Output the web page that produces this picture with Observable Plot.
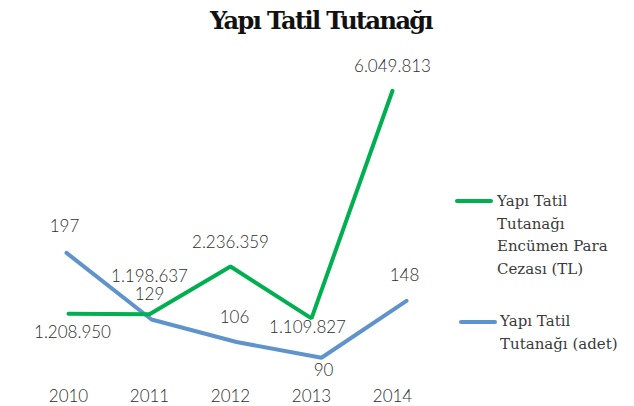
<!DOCTYPE html>
<html>
<head>
<meta charset="utf-8">
<script src="https://cdn.jsdelivr.net/npm/d3@7"></script>
<script src="https://cdn.jsdelivr.net/npm/@observablehq/plot@0.6"></script>
<style>
  html, body { margin: 0; padding: 0; background: #fff; }
  #wrap { position: relative; width: 634px; height: 406px; overflow: hidden; }
  #wrap svg { position: absolute; left: 0; top: 0; }
  #title { position: absolute; left: 0; width: 642px; top: 9px; text-align: center;
    font-family: "DejaVu Serif", serif; font-weight: bold; font-size: 24px; line-height: 24px; color: #111;
    letter-spacing: -1.6px; }
  .leg { position: absolute; font-family: "DejaVu Serif", serif; font-size: 15px; line-height: 22.7px; color: #3a3a3a; }
  .sw { position: absolute; height: 4px; border-radius: 2px; }
</style>
</head>
<body>
<div id="wrap">
  <div id="title">Yapı Tatil Tutanağı</div>
</div>
<script>
const years = ["2010", "2011", "2012", "2013", "2014"];
const cezaTL = [1208950, 1198637, 2236359, 1109827, 6049813];
const adet = [197, 129, 106, 90, 148];
const seriesNames = ["Yapı Tatil Tutanağı Encümen Para Cezası (TL)", "Yapı Tatil Tutanağı (adet)"];
const colors = ["#00b050", "#5f93cc"];

const trLocale = d3.formatLocale({decimal: ",", thousands: ".", grouping: [3], currency: ["", " TL"]});
const fmt = trLocale.format(",d");

const green = years.map((y, i) => ({year: y, value: cezaTL[i], i}));
const blue = years.map((y, i) => ({year: y, value: adet[i], i}));

const labelFont = {fontFamily: "Lato", fontWeight: 300, fontSize: 17, fill: "#2e2e2e"};

function labels(data, offsets) {
  return offsets.map(o => Plot.text(data, {
    filter: d => o.idx.includes(d.i), x: "year", y: "value",
    text: d => fmt(d.value), dx: o.dx || 0, dy: o.dy, ...labelFont
  }));
}

const wrap = document.getElementById("wrap");

const plotGreen = Plot.plot({
  width: 634, height: 406,
  marginBottom: 17, marginTop: 0, marginLeft: 0, marginRight: 0,
  x: {type: "point", domain: years, range: [67, 392], padding: 0, label: null},
  y: {domain: [0, 7000000], range: [369, 46.5], axis: null},
  style: {background: "transparent", overflow: "visible"},
  marks: [
    Plot.axisX({tickSize: 0, tickPadding: 0, label: null, fontFamily: "Lato", fontWeight: 300, fontSize: 17, fill: "#2e2e2e", color: "#2e2e2e"}),
    Plot.line(green, {x: "year", y: "value", stroke: colors[0], strokeWidth: 4, strokeLinejoin: "miter"}),
    ...labels(green, [
      {idx: [0], dx: 4, dy: 19},
      {idx: [1], dy: -38},
      {idx: [2, 4], dy: -24},
      {idx: [3], dx: -4, dy: 9}
    ])
  ]
});

const plotBlue = Plot.plot({
  width: 634, height: 406,
  marginBottom: 17, marginTop: 0, marginLeft: 0, marginRight: 0,
  x: {type: "point", domain: years, range: [66, 406], padding: 0, axis: null},
  y: {domain: [78, 407], range: [369, 46.5], axis: null},
  style: {background: "transparent", overflow: "visible"},
  marks: [
    Plot.line(blue, {x: "year", y: "value", stroke: colors[1], strokeWidth: 4, strokeLinejoin: "miter"}),
    ...labels(blue, [
      {idx: [0], dx: -2, dy: -26},
      {idx: [1], dx: -2, dy: -25},
      {idx: [2, 4], dx: -2, dy: -25},
      {idx: [3], dx: 2, dy: 13}
    ])
  ]
});

wrap.appendChild(plotBlue);
wrap.appendChild(plotGreen);

// Legend
function legend(idx, swX, swW, swY, textX, textTop, lines) {
  const s = document.createElement("div");
  s.className = "sw";
  s.style.left = swX + "px"; s.style.width = swW + "px"; s.style.top = (swY - 2) + "px";
  s.style.background = colors[idx];
  wrap.appendChild(s);
  const t = document.createElement("div");
  t.className = "leg";
  t.style.left = textX + "px"; t.style.top = textTop + "px";
  t.innerHTML = lines.join("<br>");
  t.title = seriesNames[idx];
  wrap.appendChild(t);
}
legend(0, 455, 38, 201, 497, 190, ["Yapı Tatil", "Tutanağı", "Encümen Para", "Cezası (TL)"]);
legend(1, 459, 38, 322, 500, 310, ["Yapı Tatil", "Tutanağı (adet)"]);
</script>
</body>
</html>
